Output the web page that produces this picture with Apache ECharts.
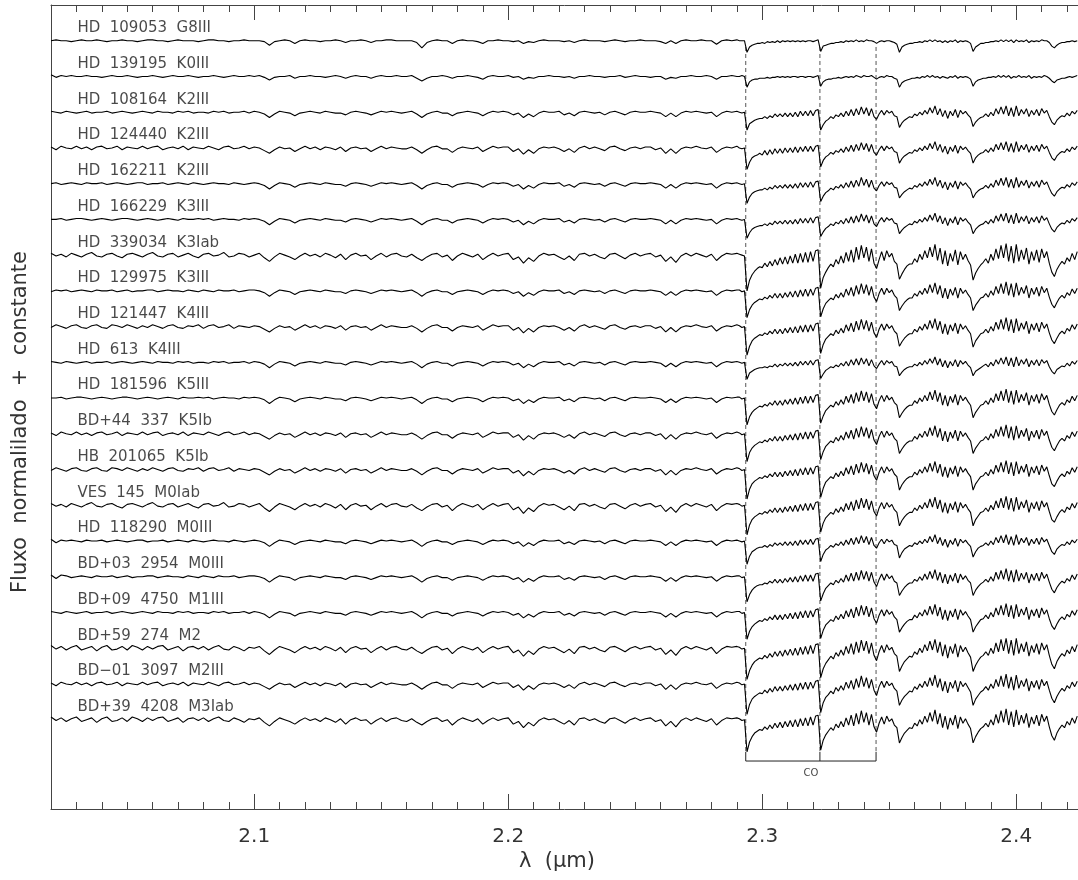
<!DOCTYPE html>
<html><head><meta charset="utf-8">
<script src="https://cdn.jsdelivr.net/npm/echarts@6/dist/echarts.min.js"></script>
<style>html,body{margin:0;padding:0;background:#fff}#c{width:1078px;height:880px}</style>
</head><body><div id="c"></div>
<script>
// wavelength grid in nm (2.020-2.290 every 2 nm, 2.291-2.424 every 1 nm)
const wavelengthNm = [
2020,2022,2024,2026,2028,2030,2032,2034,2036,2038,2040,2042,2044,2046,2048,2050,2052,2054,2056,2058,
2060,2062,2064,2066,2068,2070,2072,2074,2076,2078,2080,2082,2084,2086,2088,2090,2092,2094,2096,2098,
2100,2102,2104,2106,2108,2110,2112,2114,2116,2118,2120,2122,2124,2126,2128,2130,2132,2134,2136,2138,
2140,2142,2144,2146,2148,2150,2152,2154,2156,2158,2160,2162,2164,2166,2168,2170,2172,2174,2176,2178,
2180,2182,2184,2186,2188,2190,2192,2194,2196,2198,2200,2202,2204,2206,2208,2210,2212,2214,2216,2218,
2220,2222,2224,2226,2228,2230,2232,2234,2236,2238,2240,2242,2244,2246,2248,2250,2252,2254,2256,2258,
2260,2262,2264,2266,2268,2270,2272,2274,2276,2278,2280,2282,2284,2286,2288,2290,
2291,2292,2293,2294,2295,2296,2297,2298,2299,2300,2301,2302,2303,2304,2305,2306,2307,2308,2309,2310,
2311,2312,2313,2314,2315,2316,2317,2318,2319,2320,2321,2322,2323,2324,2325,2326,2327,2328,2329,2330,
2331,2332,2333,2334,2335,2336,2337,2338,2339,2340,2341,2342,2343,2344,2345,2346,2347,2348,2349,2350,
2351,2352,2353,2354,2355,2356,2357,2358,2359,2360,2361,2362,2363,2364,2365,2366,2367,2368,2369,2370,
2371,2372,2373,2374,2375,2376,2377,2378,2379,2380,2381,2382,2383,2384,2385,2386,2387,2388,2389,2390,
2391,2392,2393,2394,2395,2396,2397,2398,2399,2400,2401,2402,2403,2404,2405,2406,2407,2408,2409,2410,
2411,2412,2413,2414,2415,2416,2417,2418,2419,2420,2421,2422,2423,2424];

const starLabels = [
'HD  109053  G8III','HD  139195  K0III','HD  108164  K2III','HD  124440  K2III','HD  162211  K2III',
'HD  166229  K3III','HD  339034  K3Iab','HD  129975  K3III','HD  121447  K4III','HD  613  K4III',
'HD  181596  K5III','BD+44  337  K5Ib','HB  201065  K5Ib','VES  145  M0Iab','HD  118290  M0III',
'BD+03  2954  M0III','BD+09  4750  M1III','BD+59  274  M2','BD\u221201  3097  M2III','BD+39  4208  M3Iab'];

// normalized flux, in % relative to the continuum (0 = continuum)
const fluxPct_HD109053 = [
0,1,0,0,-1,0,1,0,0,1, 0,-1,0,0,1,0,0,-1,0,1, 1,0,0,-1,0,1,0,0,0,-1, 0,1,1,0,0,-1,0,0,1,0,
0,0,-1,-5,-1,0,1,0,-3,0, 1,0,0,-1,0,0,1,0,-2,0, 0,1,0,-2,0,0,1,1,0,0, 0,0,-2,-8,-2,0,1,0,0,-3,
0,1,0,0,-1,-3,0,0,1,0, 0,-1,0,-3,-1,-2,0,1,0,0, 0,-1,0,-2,0,1,0,0,0,-1, 0,1,0,-1,0,0,1,0,0,0,
-1,-3,0,-3,0,1,0,0,1,0, 0,-4,0,1,0,1,
0,0,0,-13,-7,-5,-4,-3,-3,-2, -3,-1,-2,-1,-2,0,-2,0,-1,0, -1,0,-1,0,-1,0,-1,0,0,-1, 0,1,
-12,-6,-5,-4,-3,-3,-2,-2,-1,-2, 0,-1,0,-1,1,-1,0,-1,1,0, 0,-1,-3,-1,0,-1,0,0,-1,-2, -4,
-13,-7,-5,-4,-3,-3,-2,-2,-1,-2, 0,-1,1,-1,1,-1,0,-2,0,-2, 0,-1,1,-2,0,-1,0,-1,-3,
-12,-7,-5,-3,-3,-2,-2,-1,-1,0, -1,1,-1,1,-1,1,-2,1,-1,0, -1,1,-2,0,-1,0,-1,1,0,0, -2,
-6,-8,-5,-3,-2,-2,-1,-1,0,-1,0];
const fluxPct_HD139195 = [
2,-1,1,0,1,0,0,1,0,0, -1,0,1,0,0,1,0,-1,0,0, 1,0,-1,0,1,0,0,1,0,-1, 0,0,1,0,-1,0,1,0,0,1,
0,1,-1,-4,-1,0,0,1,-2,0, 0,1,0,0,-1,0,1,0,-2,0, 1,0,0,-2,0,1,0,0,1,0, 0,1,-2,-5,-2,0,0,1,0,-2,
0,0,1,0,-1,-3,0,1,0,0, 1,-1,0,-3,-1,-2,0,0,1,0, 0,-1,0,-2,0,0,1,0,0,-1, 0,0,1,-1,0,1,0,0,-1,0,
0,-3,-1,-2,0,0,1,0,0,1, 0,-3,0,0,1,0,
0,1,0,-12,-6,-4,-3,-3,-2,-2, -2,-1,-2,-1,-1,0,-1,0,-1,0, -1,0,0,-1,0,0,-1,0,0,-1, 0,1,
-11,-6,-4,-3,-3,-2,-2,-1,-2,-1, 0,-1,0,-1,1,0,-1,1,0,0, 1,-1,-3,-1,0,-1,1,0,0,-2, -3,
-12,-7,-5,-4,-3,-2,-2,-1,-2,0, -1,1,-1,1,-1,0,-2,0,-1,-2, 0,-1,1,-2,0,-1,0,-1,-3,
-11,-6,-4,-3,-2,-2,-1,-1,0,-1, 1,-1,1,-1,1,-2,0,-1,1,-1, 0,-1,1,-2,0,-1,0,-1,1,0, -2,
-5,-7,-4,-3,-2,-2,-1,0,-1,0,1];
const fluxPct_HD108164 = [
1,0,-1,1,0,-1,0,1,-1,0, 0,1,-1,0,1,0,-1,0,1,0, -1,1,0,0,-1,1,0,1,-1,0, 0,-1,1,0,1,-1,0,0,1,-1,
1,0,-2,-6,-2,1,0,-1,-4,-1, 0,1,0,-1,1,0,-1,-1,-3,0, 1,0,-1,-3,-1,1,0,1,0,-1, 0,1,-2,-6,-2,0,1,-1,-1,-4,
-1,0,1,0,-1,-4,-1,1,0,1, 0,-3,-1,-6,-2,-5,-1,1,0,0, 1,-3,-1,-4,0,1,0,-1,0,-3, 0,1,-1,-3,0,1,0,0,1,0,
-1,-5,-1,-5,-1,1,0,1,0,-1, 0,-5,-1,1,0,1,
0,-1,0,-20,-13,-11,-9,-8,-7,-7, -5,-7,-4,-6,-2,-5,-2,-5,-1,-5, -1,-5,0,-5,1,-4,1,-4,2,-4, 2,3,
-20,-14,-10,-8,-5,-7,-3,-5,-1,-5, 1,-4,3,-4,4,-3,6,-2,5,-4, 4,-5,-8,-2,2,-3,2,-1,1,-4, -5,
-17,-12,-9,-7,-5,-6,-2,-4,0,-3, 2,-2,5,-1,7,-3,4,-5,2,-7, 1,-4,3,-6,2,-2,1,-3,-6,
-16,-11,-8,-6,-5,-2,-5,0,-4,4, -2,6,-2,7,-4,5,-5,7,-4,3, -2,4,-5,2,-3,3,-4,4,-1,2, -5,
-11,-14,-9,-6,-4,-5,-1,-4,1,-2,2];
const fluxPct_HD124440 = [
1,-2,2,0,-1,2,-1,1,-2,1, 2,-1,0,2,-2,1,0,-1,2,-1, 1,2,-2,0,1,-1,2,-2,1,0, -1,2,0,-2,1,2,-1,0,2,-1,
1,0,-3,-6,-2,1,-1,0,-4,-1, 2,-1,1,-2,1,0,-2,1,-4,0, 1,-1,0,-4,-1,2,-1,1,0,-1, -1,1,-2,-6,-2,1,2,-1,-1,-5,
-1,1,0,-1,1,-4,-1,2,0,1, 1,-4,-1,-7,-2,-6,-1,1,0,1, -1,-4,-1,-5,0,2,-1,1,-1,-3, 1,2,-1,-3,0,1,-1,1,1,-2,
0,-6,-1,-6,-1,1,0,2,0,-1, 1,-5,-1,1,0,2,
0,-1,0,-24,-16,-11,-9,-8,-6,-8, -3,-8,-2,-7,-1,-6,-1,-6,0,-5, 0,-5,1,-5,1,-4,2,-4,2,-4, 2,3,
-21,-14,-10,-8,-5,-7,-3,-5,-1,-5, 1,-4,3,-4,4,-3,6,-2,5,-4, 4,-5,-8,-2,2,-3,2,-1,1,-4, -5,
-17,-12,-9,-7,-5,-6,-2,-4,0,-3, 2,-2,5,-1,7,-3,4,-5,2,-7, 1,-4,3,-6,2,-2,1,-3,-6,
-17,-11,-8,-6,-5,-2,-5,0,-4,4, -2,6,-2,7,-4,5,-5,7,-4,3, -2,4,-5,2,-3,3,-4,4,-1,2, -5,
-11,-14,-9,-6,-4,-5,-1,-4,1,-2,2];
const fluxPct_HD162211 = [
0,1,-1,0,1,0,-1,1,0,0, 1,-1,0,1,0,-1,0,1,1,-1, 0,0,1,-1,0,1,0,-1,1,0, -1,0,1,0,0,-1,1,0,-1,0,
1,0,-2,-6,-2,1,0,-1,-4,-1, 0,1,0,-1,1,0,-1,-1,-3,0, 1,0,-1,-3,-1,1,0,1,0,-1, 0,1,-2,-6,-2,0,1,-1,-1,-4,
-1,0,1,0,-1,-4,-1,1,0,1, 0,-3,-1,-6,-2,-5,-1,1,0,0, 1,-3,-1,-4,0,1,0,-1,0,-3, 0,1,-1,-3,0,1,0,0,1,0,
-1,-5,-1,-5,-1,1,0,1,0,-1, 0,-5,-1,1,0,1,
0,-1,0,-22,-15,-11,-9,-8,-7,-7, -5,-7,-4,-6,-2,-5,-2,-5,-1,-5, -1,-5,0,-5,1,-4,1,-4,2,-4, 2,3,
-20,-14,-10,-8,-5,-7,-3,-5,-1,-5, 1,-4,3,-4,4,-3,7,-2,5,-4, 4,-5,-8,-2,2,-3,2,-1,1,-4, -5,
-16,-12,-9,-7,-5,-6,-2,-4,0,-3, 2,-2,5,-1,7,-3,4,-5,2,-7, 1,-4,3,-6,2,-2,1,-3,-6,
-16,-11,-8,-6,-5,-2,-5,0,-4,4, -2,6,-2,7,-4,5,-5,7,-4,3, -2,4,-5,2,-3,3,-4,4,-1,2, -5,
-11,-14,-9,-6,-4,-5,-1,-4,1,-2,2];
const fluxPct_HD166229 = [
0,0,1,-1,0,1,1,0,-1,0, 1,0,-1,0,1,1,0,-1,0,1, 0,-1,0,1,0,-1,1,0,0,1, 0,1,-1,0,1,0,0,-1,1,0,
1,0,-2,-6,-2,1,0,-1,-4,-1, 0,1,0,-1,1,0,-1,-1,-3,0, 1,0,-1,-3,-1,1,0,1,0,-1, 0,1,-2,-6,-2,0,1,-1,-1,-4,
-1,0,1,0,-1,-4,-1,1,0,1, 0,-3,-1,-6,-2,-5,-1,1,0,0, 1,-3,-1,-4,0,1,0,-1,0,-3, 0,1,-1,-3,0,1,0,0,1,0,
-1,-5,-1,-5,-1,1,0,1,0,-1, 0,-5,-1,1,0,1,
0,-1,0,-21,-15,-11,-9,-8,-7,-7, -5,-7,-4,-6,-2,-5,-2,-5,-1,-5, -1,-5,0,-5,1,-4,1,-4,2,-4, 2,3,
-19,-14,-10,-8,-5,-7,-3,-5,-1,-5, 1,-4,3,-4,4,-3,6,-2,5,-4, 4,-5,-8,-2,2,-3,2,-1,1,-4, -5,
-16,-12,-9,-7,-5,-6,-2,-4,0,-3, 2,-2,5,-1,7,-3,4,-5,2,-7, 1,-4,3,-6,2,-2,1,-3,-6,
-16,-11,-8,-6,-5,-2,-5,0,-4,4, -2,6,-2,7,-4,5,-5,7,-4,3, -2,4,-5,2,-3,3,-4,4,-1,2, -5,
-11,-14,-9,-6,-4,-5,-1,-4,1,-2,2];
const fluxPct_HD339034 = [
2,-1,1,-2,2,0,-2,1,3,-1, -2,1,2,-1,-3,1,2,0,-2,1, 3,-1,-2,1,2,-2,0,2,-1,-3, 1,2,-1,0,3,-2,-1,2,1,-2,
0,2,-3,-7,-2,2,0,-2,-5,-1, 2,-1,1,-2,2,0,-3,1,-5,0, 2,-1,0,-5,-1,2,-2,1,2,-1, -2,1,-3,-6,-2,1,2,-2,0,-6,
-1,2,0,-2,1,-5,-1,2,-1,1, 2,-5,-2,-9,-3,-7,-1,2,0,1, -2,-5,-1,-6,1,2,-1,1,-2,-4, 1,2,-1,-4,0,2,-1,1,2,-2,
0,-7,-2,-8,-1,2,-1,2,0,-2, 1,-6,-1,2,1,2,
1,0,-1,-40,-28,-22,-18,-15,-13,-14, -9,-13,-7,-12,-5,-11,-3,-10,-2,-10, -1,-9,1,-9,2,-8,3,-8,4,-7, 5,6,
-37,-25,-19,-14,-10,-13,-5,-10,-1,-9, 3,-7,6,-8,9,-5,11,-3,9,-7, 7,-9,-15,-5,4,-6,5,-2,2,-7, -10,
-27,-21,-16,-12,-10,-10,-4,-8,1,-5, 5,-3,9,-2,12,-6,8,-10,5,-12, 2,-7,6,-11,4,-5,1,-6,-11,
-28,-20,-15,-11,-8,-4,-9,1,-6,7, -4,11,-3,13,-7,10,-9,12,-7,6, -5,8,-10,4,-6,6,-8,7,-3,4, -9,
-19,-24,-16,-11,-7,-10,-3,-7,2,-5,4];
const fluxPct_HD129975 = [
-1,1,0,1,-1,0,1,0,-1,1, 0,0,1,-1,0,1,-1,0,0,1, 1,-1,0,1,0,0,-1,1,0,-1, 1,0,-1,1,0,0,1,-1,0,1,
1,0,-2,-6,-2,1,0,-1,-4,-1, 0,1,0,-1,1,0,-1,-1,-3,0, 1,0,-1,-3,-1,1,0,1,0,-1, 0,1,-2,-6,-2,0,1,-1,-1,-4,
-1,0,1,0,-1,-4,-1,1,0,1, 0,-3,-1,-6,-2,-5,-1,1,0,0, 1,-3,-1,-4,0,1,0,-1,0,-3, 0,1,-1,-3,0,1,0,0,1,0,
-1,-5,-1,-5,-1,1,0,1,0,-1, 0,-5,-1,1,0,1,
1,-1,0,-30,-21,-16,-13,-11,-9,-10, -7,-9,-5,-8,-3,-8,-3,-8,-2,-7, -1,-7,0,-7,1,-6,2,-6,2,-5, 3,4,
-29,-20,-14,-11,-8,-10,-4,-8,-2,-7, 2,-5,4,-6,6,-4,8,-3,7,-5, 5,-7,-12,-3,3,-4,3,-2,1,-5, -8,
-22,-17,-13,-10,-8,-8,-3,-6,0,-4, 3,-3,7,-2,9,-4,6,-8,3,-9, 2,-5,4,-8,3,-3,1,-4,-8,
-22,-16,-12,-8,-7,-3,-7,0,-5,5, -3,8,-3,10,-5,8,-7,9,-5,4, -3,6,-8,3,-4,4,-6,5,-2,3, -7,
-15,-19,-13,-8,-5,-8,-2,-5,2,-3,3];
const fluxPct_HD121447 = [
-1,2,0,-2,1,2,-1,-2,1,2, -1,-2,2,1,-1,2,0,-2,1,-1, 2,0,-2,1,2,-1,-2,1,0,2, -2,1,2,-1,0,2,-2,1,0,-1,
1,0,-3,-6,-2,1,-1,0,-4,-1, 2,-1,1,-2,1,0,-2,1,-4,0, 1,-1,0,-4,-1,2,-1,1,0,-1, -1,1,-2,-6,-2,1,2,-1,-1,-5,
-1,1,0,-1,1,-4,-1,2,0,1, 1,-4,-1,-7,-2,-6,-1,1,0,1, -1,-4,-1,-5,0,2,-1,1,-1,-3, 1,2,-1,-3,0,1,-1,1,1,-2,
0,-6,-1,-6,-1,1,0,2,0,-1, 1,-5,-1,1,0,2,
1,-1,0,-32,-22,-16,-13,-11,-9,-10, -7,-9,-5,-8,-3,-8,-3,-8,-2,-7, -1,-7,0,-7,1,-6,2,-6,2,-5, 3,4,
-30,-20,-14,-11,-8,-10,-4,-8,-2,-7, 2,-5,4,-6,6,-4,8,-3,7,-5, 5,-7,-12,-3,3,-4,3,-2,1,-5, -8,
-22,-17,-13,-10,-8,-8,-3,-6,0,-4, 3,-3,7,-2,9,-4,6,-8,3,-9, 2,-5,4,-8,3,-3,1,-4,-8,
-23,-16,-12,-8,-7,-3,-7,0,-5,5, -3,8,-3,10,-5,8,-7,9,-5,4, -3,6,-8,3,-4,4,-6,5,-2,3, -7,
-15,-19,-13,-8,-5,-8,-2,-5,2,-3,3];
const fluxPct_HD613 = [
1,0,-1,1,0,-1,0,1,-1,0, 0,1,-1,0,1,0,-1,0,1,0, -1,1,0,0,-1,1,0,1,-1,0, 0,-1,1,0,1,-1,0,0,1,-1,
1,0,-2,-6,-2,1,0,-1,-4,-1, 0,1,0,-1,1,0,-1,-1,-3,0, 1,0,-1,-3,-1,1,0,1,0,-1, 0,1,-2,-6,-2,0,1,-1,-1,-4,
-1,0,1,0,-1,-4,-1,1,0,1, 0,-3,-1,-6,-2,-5,-1,1,0,0, 1,-3,-1,-4,0,1,0,-1,0,-3, 0,1,-1,-3,0,1,0,0,1,0,
-1,-5,-1,-5,-1,1,0,1,0,-1, 0,-5,-1,1,0,1,
0,-1,0,-19,-12,-10,-8,-7,-6,-6, -5,-6,-4,-5,-2,-5,-2,-4,-1,-4, -1,-4,0,-4,1,-3,1,-3,2,-3, 2,3,
-18,-13,-9,-7,-5,-6,-3,-5,-1,-4, 1,-4,3,-3,4,-3,5,-2,4,-4, 3,-4,-7,-2,2,-3,2,-1,1,-4, -5,
-15,-11,-8,-6,-5,-5,-2,-4,0,-3, 2,-2,4,-1,6,-3,4,-5,2,-6, 1,-4,3,-5,2,-2,1,-3,-6,
-15,-10,-8,-6,-4,-2,-5,0,-4,3, -2,5,-2,6,-4,5,-5,6,-4,3, -2,4,-5,2,-3,3,-4,3,-1,2, -5,
-10,-13,-8,-6,-4,-5,-1,-4,1,-2,2];
const fluxPct_HD181596 = [
0,0,1,-1,0,1,1,0,-1,0, 1,0,-1,0,1,1,0,-1,0,1, 0,-1,0,1,0,-1,1,0,0,1, 0,1,-1,0,1,0,0,-1,1,0,
1,0,-2,-6,-2,1,0,-1,-4,-1, 0,1,0,-1,1,0,-1,-1,-3,0, 1,0,-1,-3,-1,1,0,1,0,-1, 0,1,-2,-6,-2,0,1,-1,-1,-4,
-1,0,1,0,-1,-4,-1,1,0,1, 0,-3,-1,-6,-2,-5,-1,1,0,0, 1,-3,-1,-4,0,1,0,-1,0,-3, 0,1,-1,-3,0,1,0,0,1,0,
-1,-5,-1,-5,-1,1,0,1,0,-1, 0,-5,-1,1,0,1,
1,-1,0,-30,-21,-16,-13,-11,-9,-10, -7,-9,-5,-8,-3,-8,-3,-8,-2,-7, -1,-7,0,-7,1,-6,2,-6,2,-5, 3,4,
-28,-20,-14,-11,-8,-10,-4,-8,-2,-7, 2,-5,4,-6,6,-4,8,-3,7,-5, 5,-7,-12,-3,3,-4,3,-2,1,-5, -8,
-22,-17,-13,-10,-8,-8,-3,-6,0,-4, 3,-3,7,-2,9,-4,6,-8,3,-9, 2,-5,4,-8,3,-3,1,-4,-8,
-22,-16,-12,-8,-7,-3,-7,0,-5,5, -3,8,-3,10,-5,8,-7,9,-5,4, -3,6,-8,3,-4,4,-6,5,-2,3, -7,
-15,-19,-13,-8,-5,-8,-2,-5,2,-3,3];
const fluxPct_BD44_337 = [
1,-2,2,0,-1,2,-1,1,-2,1, 2,-1,0,2,-2,1,0,-1,2,-1, 1,2,-2,0,1,-1,2,-2,1,0, -1,2,0,-2,1,2,-1,0,2,-1,
1,0,-3,-6,-2,1,-1,0,-4,-1, 2,-1,1,-2,1,0,-2,1,-4,0, 1,-1,0,-4,-1,2,-1,1,0,-1, -1,1,-2,-6,-2,1,2,-1,-1,-5,
-1,1,0,-1,1,-4,-1,2,0,1, 1,-4,-1,-7,-2,-6,-1,1,0,1, -1,-4,-1,-5,0,2,-1,1,-1,-3, 1,2,-1,-3,0,1,-1,1,1,-2,
0,-6,-1,-6,-1,1,0,2,0,-1, 1,-5,-1,1,0,2,
1,-1,0,-31,-21,-16,-13,-11,-9,-10, -7,-9,-5,-8,-3,-8,-3,-8,-2,-7, -1,-7,0,-7,1,-6,2,-6,2,-5, 3,4,
-29,-20,-14,-11,-8,-10,-4,-8,-2,-7, 2,-5,4,-6,6,-4,8,-3,7,-5, 5,-7,-12,-3,3,-4,3,-2,1,-5, -8,
-22,-17,-13,-10,-8,-8,-3,-6,0,-4, 3,-3,7,-2,9,-4,6,-8,3,-9, 2,-5,4,-8,3,-3,1,-4,-8,
-22,-16,-12,-8,-7,-3,-7,0,-5,5, -3,8,-3,10,-5,8,-7,9,-5,4, -3,6,-8,3,-4,4,-6,5,-2,3, -7,
-15,-19,-13,-8,-5,-8,-2,-5,2,-3,3];
const fluxPct_HB201065 = [
-1,2,0,-2,1,2,-1,-2,1,2, -1,-2,2,1,-1,2,0,-2,1,-1, 2,0,-2,1,2,-1,-2,1,0,2, -2,1,2,-1,0,2,-2,1,0,-1,
1,0,-3,-6,-2,1,-1,0,-4,-1, 2,-1,1,-2,1,0,-2,1,-4,0, 1,-1,0,-4,-1,2,-1,1,0,-1, -1,1,-2,-6,-2,1,2,-1,-1,-5,
-1,1,0,-1,1,-4,-1,2,0,1, 1,-4,-1,-7,-2,-6,-1,1,0,1, -1,-4,-1,-5,0,2,-1,1,-1,-3, 1,2,-1,-3,0,1,-1,1,1,-2,
0,-6,-1,-6,-1,1,0,2,0,-1, 1,-5,-1,1,0,2,
1,-1,0,-33,-22,-16,-13,-11,-9,-10, -7,-9,-5,-8,-3,-8,-3,-8,-2,-7, -1,-7,0,-7,1,-6,2,-6,2,-5, 3,4,
-31,-21,-14,-11,-8,-10,-4,-8,-2,-7, 2,-5,4,-6,6,-4,8,-3,7,-5, 5,-7,-12,-3,3,-4,3,-2,1,-5, -8,
-23,-17,-13,-10,-8,-8,-3,-6,0,-4, 3,-3,7,-2,9,-4,6,-8,3,-9, 2,-5,4,-8,3,-3,1,-4,-8,
-23,-16,-12,-8,-7,-3,-7,0,-5,5, -3,8,-3,10,-5,8,-7,9,-5,4, -3,6,-8,3,-4,4,-6,5,-2,3, -7,
-16,-19,-13,-8,-5,-8,-2,-5,2,-3,3];
const fluxPct_VES145 = [
2,-1,1,-2,2,0,-2,1,3,-1, -2,1,2,-1,-3,1,2,0,-2,1, 3,-1,-2,1,2,-2,0,2,-1,-3, 1,2,-1,0,3,-2,-1,2,1,-2,
0,2,-3,-7,-2,2,0,-2,-5,-1, 2,-1,1,-2,2,0,-3,1,-5,0, 2,-1,0,-5,-1,2,-2,1,2,-1, -2,1,-3,-6,-2,1,2,-2,0,-6,
-1,2,0,-2,1,-5,-1,2,-1,1, 2,-5,-2,-9,-3,-7,-1,2,0,1, -2,-5,-1,-6,1,2,-1,1,-2,-4, 1,2,-1,-4,0,2,-1,1,2,-2,
0,-7,-2,-8,-1,2,-1,2,0,-2, 1,-6,-1,2,1,2,
1,-1,0,-33,-22,-16,-13,-11,-9,-10, -7,-9,-5,-8,-3,-8,-3,-8,-2,-7, -1,-7,0,-7,1,-6,2,-6,2,-5, 3,4,
-30,-20,-14,-11,-8,-10,-4,-8,-2,-7, 2,-5,4,-6,6,-4,8,-3,7,-5, 5,-7,-12,-3,3,-4,3,-2,1,-5, -8,
-23,-17,-13,-10,-8,-8,-3,-6,0,-4, 3,-3,7,-2,9,-4,6,-8,3,-9, 2,-5,4,-8,3,-3,1,-4,-8,
-23,-16,-12,-8,-7,-3,-7,0,-5,5, -3,8,-3,10,-5,8,-7,9,-5,4, -3,6,-8,3,-4,4,-6,5,-2,3, -7,
-16,-19,-13,-8,-5,-8,-2,-5,2,-3,3];
const fluxPct_HD118290 = [
2,-2,1,0,1,0,-1,1,0,0, 1,-1,0,1,0,-1,0,1,1,-1, 0,0,1,-1,0,1,0,-1,1,0, -1,0,1,0,0,-1,1,0,-1,0,
1,0,-2,-6,-2,1,0,-1,-4,-1, 0,1,0,-1,1,0,-1,-1,-3,0, 1,0,-1,-3,-1,1,0,1,0,-1, 0,1,-2,-6,-2,0,1,-1,-1,-4,
-1,0,1,0,-1,-4,-1,1,0,1, 0,-3,-1,-6,-2,-5,-1,1,0,0, 1,-3,-1,-4,0,1,0,-1,0,-3, 0,1,-1,-3,0,1,0,0,1,0,
-1,-5,-1,-5,-1,1,0,1,0,-1, 0,-5,-1,1,0,1,
0,-1,0,-26,-17,-12,-10,-8,-7,-7, -5,-7,-4,-6,-2,-5,-2,-5,-1,-5, -1,-5,0,-5,1,-4,1,-4,2,-4, 2,3,
-23,-15,-10,-8,-5,-7,-3,-5,-1,-5, 1,-4,3,-4,4,-3,6,-2,5,-4, 4,-5,-8,-2,2,-3,2,-1,1,-4, -5,
-19,-13,-9,-7,-5,-6,-2,-4,0,-3, 2,-2,5,-1,7,-3,4,-5,2,-7, 1,-4,3,-6,2,-2,1,-3,-6,
-18,-12,-8,-6,-5,-2,-5,0,-4,4, -2,6,-2,7,-4,5,-5,7,-4,3, -2,4,-5,2,-3,3,-4,4,-1,2, -5,
-12,-15,-9,-6,-4,-5,-1,-4,1,-2,2];
const fluxPct_BD03_2954 = [
2,-2,2,1,-1,0,1,0,-1,1, 0,0,1,-1,0,1,-1,0,0,1, 1,-1,0,1,0,0,-1,1,0,-1, 1,0,-1,1,0,0,1,-1,0,1,
1,0,-2,-6,-2,1,0,-1,-4,-1, 0,1,0,-1,1,0,-1,-1,-3,0, 1,0,-1,-3,-1,1,0,1,0,-1, 0,1,-2,-6,-2,0,1,-1,-1,-4,
-1,0,1,0,-1,-4,-1,1,0,1, 0,-3,-1,-6,-2,-5,-1,1,0,0, 1,-3,-1,-4,0,1,0,-1,0,-3, 0,1,-1,-3,0,1,0,0,1,0,
-1,-5,-1,-5,-1,1,0,1,0,-1, 0,-5,-1,1,0,1,
1,-1,0,-28,-20,-15,-12,-10,-9,-9, -7,-8,-5,-7,-3,-7,-3,-7,-2,-6, -1,-6,0,-6,1,-5,2,-5,2,-5, 3,4,
-27,-19,-13,-10,-7,-9,-4,-7,-2,-6, 2,-5,4,-5,5,-4,7,-3,6,-5, 5,-6,-11,-3,3,-4,3,-2,1,-5, -7,
-21,-16,-12,-9,-7,-7,-3,-5,0,-4, 3,-3,6,-2,8,-4,5,-7,3,-8, 2,-5,4,-7,3,-3,1,-4,-7,
-21,-15,-11,-8,-6,-3,-6,0,-5,5, -3,7,-3,9,-5,7,-6,8,-5,4, -3,5,-7,3,-4,4,-5,5,-2,3, -6,
-14,-18,-12,-8,-5,-7,-2,-5,2,-3,3];
const fluxPct_BD09_4750 = [
1,0,-1,1,0,-1,0,1,-1,0, 0,1,-1,0,1,0,-1,0,1,0, -1,1,0,0,-1,1,0,1,-1,0, 0,-1,1,0,1,-1,0,0,1,-1,
1,0,-2,-6,-2,1,0,-1,-4,-1, 0,1,0,-1,1,0,-1,-1,-3,0, 1,0,-1,-3,-1,1,0,1,0,-1, 0,1,-2,-6,-2,0,1,-1,-1,-4,
-1,0,1,0,-1,-4,-1,1,0,1, 0,-3,-1,-6,-2,-5,-1,1,0,0, 1,-3,-1,-4,0,1,0,-1,0,-3, 0,1,-1,-3,0,1,0,0,1,0,
-1,-5,-1,-5,-1,1,0,1,0,-1, 0,-5,-1,1,0,1,
1,-1,0,-30,-21,-16,-13,-11,-9,-10, -7,-9,-5,-8,-3,-8,-3,-8,-2,-7, -1,-7,0,-7,1,-6,2,-6,2,-5, 3,4,
-29,-20,-14,-11,-8,-10,-4,-8,-2,-7, 2,-5,4,-6,6,-4,8,-3,7,-5, 5,-7,-12,-3,3,-4,3,-2,1,-5, -8,
-22,-17,-13,-10,-8,-8,-3,-6,0,-4, 3,-3,7,-2,9,-4,6,-8,3,-9, 2,-5,4,-8,3,-3,1,-4,-8,
-22,-16,-12,-8,-7,-3,-7,0,-5,5, -3,8,-3,10,-5,8,-7,9,-5,4, -3,6,-8,3,-4,4,-6,5,-2,3, -7,
-15,-19,-13,-8,-5,-8,-2,-5,2,-3,3];
const fluxPct_BD59_274 = [
3,-1,2,-2,1,3,-2,0,2,-3, 1,3,-2,-1,2,-2,3,1,-2,2, -1,2,3,-2,0,2,-3,1,2,-1, 2,-2,1,3,-1,-2,2,0,-3,1,
0,2,-3,-7,-2,2,0,-2,-5,-1, 2,-1,1,-2,2,0,-3,1,-5,0, 2,-1,0,-5,-1,2,-2,1,2,-1, -2,1,-3,-6,-2,1,2,-2,0,-6,
-1,2,0,-2,1,-5,-1,2,-1,1, 2,-5,-2,-9,-3,-7,-1,2,0,1, -2,-5,-1,-6,1,2,-1,1,-2,-4, 1,2,-1,-4,0,2,-1,1,2,-2,
0,-7,-2,-8,-1,2,-1,2,0,-2, 1,-6,-1,2,1,2,
1,-1,0,-35,-25,-19,-15,-13,-11,-12, -8,-11,-6,-10,-4,-9,-3,-9,-2,-8, -1,-8,0,-8,1,-7,2,-7,3,-6, 4,5,
-33,-23,-17,-13,-9,-12,-5,-9,-2,-8, 2,-6,5,-7,7,-5,9,-3,8,-6, 6,-8,-14,-4,3,-5,4,-2,1,-6, -9,
-26,-20,-15,-12,-9,-10,-4,-7,0,-5, 4,-3,8,-2,10,-5,7,-9,4,-11, 2,-6,5,-10,3,-4,1,-5,-10,
-26,-19,-14,-10,-8,-4,-8,0,-6,6, -4,10,-3,11,-6,9,-8,11,-6,5, -4,7,-9,3,-5,5,-7,6,-2,4, -8,
-18,-23,-15,-10,-6,-9,-2,-6,2,-4,4];
const fluxPct_BDm01_3097 = [
1,-2,2,0,-1,2,-1,1,-2,1, 2,-1,0,2,-2,1,0,-1,2,-1, 1,2,-2,0,1,-1,2,-2,1,0, -1,2,0,-2,1,2,-1,0,2,-1,
1,0,-3,-6,-2,1,-1,0,-4,-1, 2,-1,1,-2,1,0,-2,1,-4,0, 1,-1,0,-4,-1,2,-1,1,0,-1, -1,1,-2,-6,-2,1,2,-1,-1,-5,
-1,1,0,-1,1,-4,-1,2,0,1, 1,-4,-1,-7,-2,-6,-1,1,0,1, -1,-4,-1,-5,0,2,-1,1,-1,-3, 1,2,-1,-3,0,1,-1,1,1,-2,
0,-6,-1,-6,-1,1,0,2,0,-1, 1,-5,-1,1,0,2,
1,-1,0,-34,-23,-17,-14,-12,-10,-11, -7,-10,-5,-9,-3,-8,-3,-8,-2,-7, -1,-7,0,-7,1,-6,2,-6,2,-5, 3,4,
-32,-21,-15,-12,-8,-11,-4,-8,-2,-7, 2,-5,4,-6,6,-4,9,-3,7,-5, 5,-7,-13,-3,3,-4,3,-2,1,-5, -8,
-24,-18,-14,-11,-8,-9,-3,-6,0,-4, 3,-3,7,-2,10,-4,6,-8,3,-10, 2,-5,4,-9,3,-3,1,-4,-9,
-24,-17,-13,-9,-7,-3,-7,0,-5,5, -3,9,-3,11,-5,8,-7,10,-5,4, -3,6,-8,3,-4,4,-6,5,-2,3, -7,
-16,-21,-14,-9,-5,-8,-2,-5,2,-3,3];
const fluxPct_BD39_4208 = [
3,-1,2,-2,1,3,-2,0,2,-3, 1,3,-2,-1,2,-2,3,1,-2,2, -1,2,3,-2,0,2,-3,1,2,-1, 2,-2,1,3,-1,-2,2,0,-3,1,
0,2,-3,-7,-2,2,0,-2,-5,-1, 2,-1,1,-2,2,0,-3,1,-5,0, 2,-1,0,-5,-1,2,-2,1,2,-1, -2,1,-3,-6,-2,1,2,-2,0,-6,
-1,2,0,-2,1,-5,-1,2,-1,1, 2,-5,-2,-9,-3,-7,-1,2,0,1, -2,-5,-1,-6,1,2,-1,1,-2,-4, 1,2,-1,-4,0,2,-1,1,2,-2,
0,-7,-2,-8,-1,2,-1,2,0,-2, 1,-6,-1,2,1,2,
1,-1,0,-36,-25,-19,-15,-13,-11,-12, -8,-11,-6,-10,-4,-9,-3,-9,-2,-8, -1,-8,0,-8,1,-7,2,-7,3,-6, 4,5,
-34,-23,-17,-13,-9,-12,-5,-9,-2,-8, 2,-6,5,-7,7,-5,10,-3,8,-6, 6,-8,-14,-4,3,-5,4,-2,1,-6, -9,
-26,-20,-15,-12,-9,-10,-4,-7,0,-5, 4,-3,8,-2,11,-5,7,-9,4,-11, 2,-6,5,-10,3,-4,1,-5,-10,
-26,-19,-14,-10,-8,-4,-8,0,-6,6, -4,10,-3,12,-6,9,-8,11,-6,5, -4,7,-9,3,-5,5,-7,6,-2,4, -8,
-18,-23,-15,-10,-6,-9,-2,-6,2,-4,4];

const spectra = [fluxPct_HD109053, fluxPct_HD139195, fluxPct_HD108164, fluxPct_HD124440, fluxPct_HD162211,
  fluxPct_HD166229, fluxPct_HD339034, fluxPct_HD129975, fluxPct_HD121447, fluxPct_HD613,
  fluxPct_HD181596, fluxPct_BD44_337, fluxPct_HB201065, fluxPct_VES145, fluxPct_HD118290,
  fluxPct_BD03_2954, fluxPct_BD09_4750, fluxPct_BD59_274, fluxPct_BDm01_3097, fluxPct_BD39_4208];

const coBandheads = [2.2935, 2.3227, 2.3448];
const coLabel = 'CO';
const xMajorTicks = [2.1, 2.2, 2.3, 2.4];
const offsetStep = 0.4;     // constant added between successive spectra
const xMin = 2.02, xMax = 2.4243, yMin = 0, yMax = 9;

// layout constants (data units)
const labelLambda = 2.0302, labelRise = 0.14;
const coTop = 8.53, coBottom = 0.537, coTickTop = 0.64, coTextY = 0.40;

const n = spectra.length;
const baseline = i => 1 + offsetStep * (n - 1 - i);
const FONT = 'DejaVu Sans';
const axisColor = '#444';
const clear = 'rgba(0,0,0,0)';

const series = [];
spectra.forEach((arr, i) => {
  series.push({
    type: 'line', xAxisIndex: 0, yAxisIndex: 0, silent: true, animation: false,
    symbol: 'none', showSymbol: false, z: 3,
    lineStyle: { color: '#000', width: 1.1 },
    data: arr.map((v, k) => [wavelengthNm[k] / 1000, baseline(i) + v / 100])
  });
});
series.push({
  type: 'scatter', silent: true, animation: false, symbolSize: 1, z: 5,
  itemStyle: { color: clear },
  data: starLabels.map((t, i) => ({ name: t, value: [labelLambda, baseline(i) + labelRise] })),
  label: { show: true, position: 'right', distance: 0, formatter: '{b}', color: '#1a1a1a',
    fontSize: 15, fontFamily: FONT, fontWeight: 'normal' }
});
coBandheads.forEach(l => {
  series.push({ type: 'line', silent: true, animation: false, symbol: 'none', z: 2,
    lineStyle: { color: '#555', width: 1, type: [4, 3] }, data: [[l, coTop], [l, coTickTop]] });
  series.push({ type: 'line', silent: true, animation: false, symbol: 'none', z: 2,
    lineStyle: { color: '#222', width: 1 }, data: [[l, coTickTop], [l, coBottom]] });
});
series.push({ type: 'line', silent: true, animation: false, symbol: 'none',
  lineStyle: { color: '#222', width: 1 },
  data: [[coBandheads[0], coBottom], [coBandheads[coBandheads.length - 1], coBottom]] });
series.push({ type: 'scatter', silent: true, animation: false, symbolSize: 1, z: 5,
  itemStyle: { color: clear },
  data: [{ name: coLabel, value: [(coBandheads[0] + coBandheads[coBandheads.length - 1]) / 2, coTextY] }],
  label: { show: true, position: 'inside', formatter: '{b}', color: '#111', fontSize: 10, fontFamily: FONT } });

function xAx(pos, major) {
  return {
    type: 'value', position: pos, min: xMin, max: xMax,
    interval: major ? undefined : 0.01,
    axisLine: { show: !major, onZero: false, lineStyle: { color: axisColor, width: 1 } },
    axisTick: major
      ? { show: true, inside: true, length: 15, customValues: xMajorTicks, lineStyle: { color: axisColor } }
      : { show: true, inside: true, length: 7, lineStyle: { color: axisColor } },
    axisLabel: (major && pos === 'bottom')
      ? { show: true, customValues: xMajorTicks, formatter: v => v.toFixed(1), margin: 18,
          fontSize: 20, color: '#333', fontFamily: FONT, fontWeight: 'normal' }
      : { show: false },
    splitLine: { show: false }
  };
}

const chart = echarts.init(document.getElementById('c'), null, { renderer: 'canvas' });
chart.setOption({
  animation: false,
  backgroundColor: '#fff',
  grid: { left: 51, right: 0, top: 5, bottom: 71, containLabel: false, outerBoundsMode: 'none' },
  xAxis: [xAx('bottom', false), xAx('bottom', true), xAx('top', false), xAx('top', true)],
  yAxis: { type: 'value', min: yMin, max: yMax,
    axisLine: { show: true, onZero: false, lineStyle: { color: axisColor, width: 1 } },
    axisTick: { show: false }, axisLabel: { show: false }, splitLine: { show: false } },
  graphic: [
    { type: 'text', x: 21, y: 422, rotation: Math.PI / 2, silent: true,
      style: { text: 'Fluxo  normalilado  +  constante', fontSize: 21, fontFamily: FONT, fontWeight: 'normal',
        fill: '#333', align: 'center', verticalAlign: 'middle' } },
    { type: 'text', x: 557, y: 862, silent: true,
      style: { text: '\u03bb  (\u03bcm)', fontSize: 21, fontFamily: FONT, fontWeight: 'normal',
        fill: '#333', align: 'center', verticalAlign: 'middle' } }
  ],
  series: series
});
</script></body></html>
